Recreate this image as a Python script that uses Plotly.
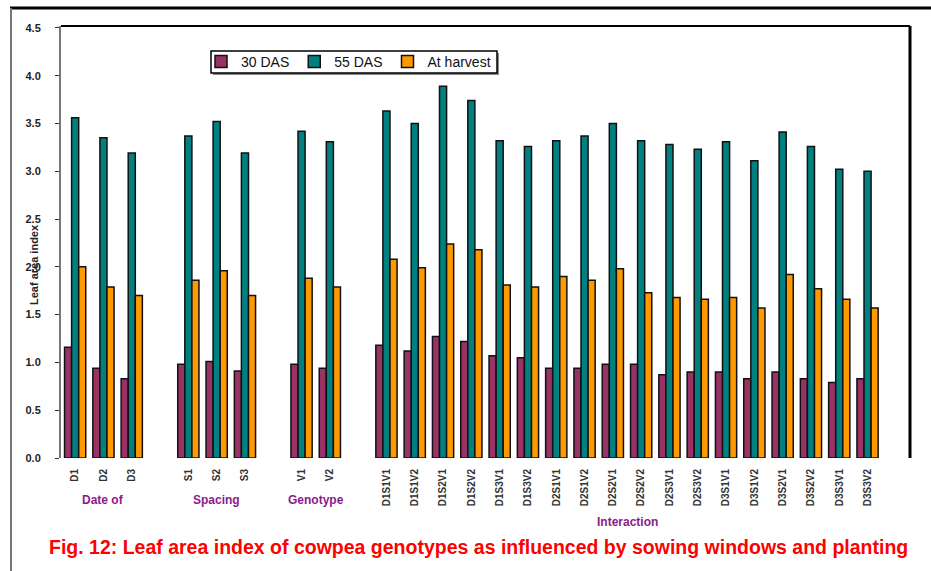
import plotly.graph_objects as go

# ---- data ----
group_names = ["Date of", "Spacing", "Genotype", "Interaction"]
date_labels = ["D1", "D2", "D3"]
spacing_labels = ["S1", "S2", "S3"]
genotype_labels = ["V1", "V2"]
interaction_labels = [
    "D1S1V1", "D1S1V2", "D1S2V1", "D1S2V2", "D1S3V1", "D1S3V2",
    "D2S1V1", "D2S1V2", "D2S2V1", "D2S2V2", "D2S3V1", "D2S3V2",
    "D3S1V1", "D3S1V2", "D3S2V1", "D3S2V2", "D3S3V1", "D3S3V2",
]
series_names = ["30 DAS", "55 DAS", "At harvest"]

das30 = [1.16, 0.94, 0.83,
         0.98, 1.01, 0.91,
         0.98, 0.94,
         1.18, 1.12, 1.27, 1.22, 1.07, 1.05, 0.94, 0.94, 0.98,
         0.98, 0.87, 0.90, 0.90, 0.83, 0.90, 0.83, 0.79, 0.83]
das55 = [3.56, 3.35, 3.19,
         3.37, 3.52, 3.19,
         3.42, 3.31,
         3.63, 3.50, 3.89, 3.74, 3.32, 3.26, 3.32, 3.37, 3.50,
         3.32, 3.28, 3.23, 3.31, 3.11, 3.41, 3.26, 3.02, 3.00]
harvest = [2.00, 1.79, 1.70,
           1.86, 1.96, 1.70,
           1.88, 1.79,
           2.08, 1.99, 2.24, 2.18, 1.81, 1.79, 1.90, 1.86, 1.98,
           1.73, 1.68, 1.66, 1.68, 1.57, 1.92, 1.77, 1.66, 1.57]

y_ticks = [0.0, 0.5, 1.0, 1.5, 2.0, 2.5, 3.0, 3.5, 4.0, 4.5]

groups = [date_labels, spacing_labels, genotype_labels, interaction_labels]

# slot positions with one empty slot between groups
xpos, xlab, group_centers = [], [], []
p = 0
for gi, g in enumerate(groups):
    start = p
    for lab in g:
        xpos.append(p)
        xlab.append(lab)
        p += 1
    group_centers.append((start + p - 1) / 2)
    p += 1
n_slots = p - 1

colors = ["#993366", "#008080", "#FF9900"]
values = [das30, das55, harvest]

fig = go.Figure()
for name, vals, col in zip(series_names, values, colors):
    fig.add_trace(go.Bar(
        x=xpos, y=vals, name=name,
        marker=dict(color=col, line=dict(color="#111111", width=1.5)),
    ))

W, H = 931, 571
ml, mr, mt, mb = 61, 21, 26, 113
pw, ph = W - ml - mr, H - mt - mb

def px_x(x):
    return (x - ml) / pw

def px_y(y):
    return (H - mb - y) / ph

annotations = []
group_label_y = [500, 500, 500, 522]
for name, c, yy in zip(group_names, group_centers, group_label_y):
    annotations.append(dict(
        x=c, xref="x", y=px_y(yy), yref="paper", text=f"<b>{name}</b>", showarrow=False,
        font=dict(family="Liberation Sans, Arial", size=12, color="#8B1A8B"),
        xanchor="center", yanchor="middle",
    ))
annotations.append(dict(
    x=px_x(34), xref="paper", y=px_y(265), yref="paper", text="<b>Leaf area index</b>",
    textangle=-90, showarrow=False,
    font=dict(family="Liberation Sans, Arial", size=11, color="#222222"),
    xanchor="center", yanchor="middle",
))
annotations.append(dict(
    x=px_x(478), xref="paper", y=px_y(547), yref="paper",
    text="<b>Fig. 12: Leaf area index of cowpea genotypes as influenced by sowing windows and planting</b>",
    showarrow=False,
    font=dict(family="Liberation Sans, Arial", size=19.5, color="#FF0000"),
    xanchor="center", yanchor="middle",
))

shapes = [
    # outer frame top line
    dict(type="line", xref="paper", yref="paper", x0=px_x(10), x1=px_x(931), y0=px_y(8), y1=px_y(8),
         line=dict(color="black", width=3)),
    # outer frame left line
    dict(type="line", xref="paper", yref="paper", x0=px_x(11), x1=px_x(11), y0=px_y(8), y1=px_y(571),
         line=dict(color="#777777", width=2)),
    # plot area top & right border
    dict(type="line", xref="paper", yref="paper", x0=0, x1=1, y0=1, y1=1,
         line=dict(color="black", width=2)),
    dict(type="line", xref="paper", yref="paper", x0=1, x1=1, y0=0, y1=1,
         line=dict(color="black", width=3)),
    # legend shadow
    dict(type="rect", xref="paper", yref="paper", x0=px_x(213), x1=px_x(499), y0=px_y(53), y1=px_y(75),
         fillcolor="#888888", line=dict(width=0), layer="above"),
    # legend box
    dict(type="rect", xref="paper", yref="paper", x0=px_x(211), x1=px_x(497), y0=px_y(51), y1=px_y(73),
         fillcolor="white", line=dict(color="black", width=1.5), layer="above"),
]

fig.update_layout(
    width=W, height=H,
    margin=dict(l=ml, r=mr, t=mt, b=mb),
    paper_bgcolor="white", plot_bgcolor="white",
    barmode="group", bargap=0.25, bargroupgap=0.0,
    font=dict(family="Liberation Sans, Arial", color="#222222"),
    showlegend=True,
    legend=dict(
        orientation="h", x=px_x(201), y=px_y(62), xanchor="left", yanchor="middle",
        borderwidth=0, bgcolor="rgba(0,0,0,0)",
        font=dict(size=14, color="#111111"),
        itemwidth=30, tracegroupgap=0,
    ),
    xaxis=dict(
        range=[-0.5, n_slots + 0.5], tickmode="array", tickvals=xpos,
        ticktext=[f"<b>{t}</b>" for t in xlab],
        tickangle=-90, tickfont=dict(size=10, color="#333333"),
        showgrid=False, zeroline=False, showline=False, ticks="",
        ticklabelstandoff=8,
    ),
    yaxis=dict(
        range=[0, 4.52], tickmode="array", tickvals=y_ticks,
        ticktext=[f"<b>{v:.1f}</b>" for v in y_ticks],
        tickfont=dict(size=11, color="#222222"),
        showgrid=False, zeroline=False, showline=True, linecolor="#777777", linewidth=2,
        ticks="outside", ticklen=4, tickcolor="#333333", ticklabelstandoff=12,
    ),
    annotations=annotations,
    shapes=shapes,
)

fig.write_html("out.html", config={"displayModeBar": False},
               post_script="document.body.style.margin='0';")
